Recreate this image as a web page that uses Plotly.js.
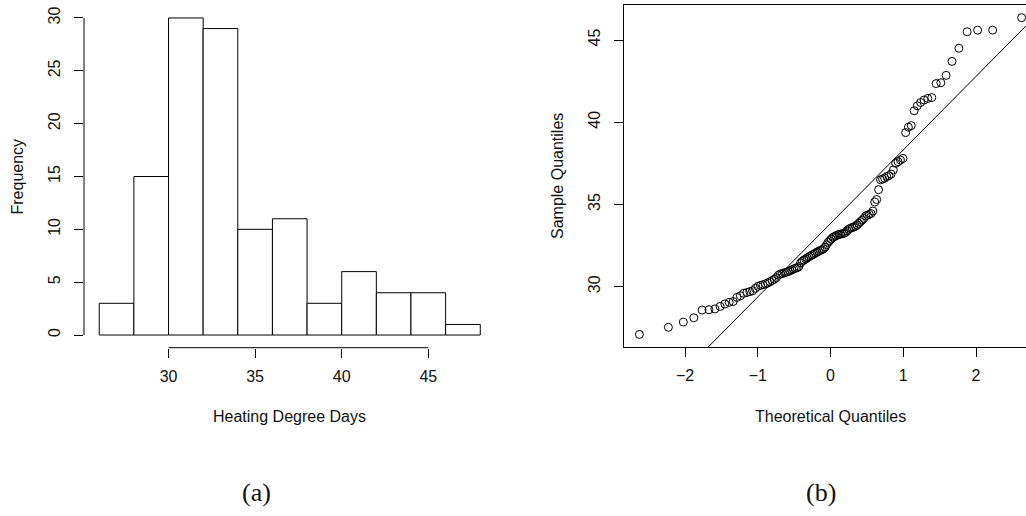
<!DOCTYPE html>
<html>
<head>
<meta charset="utf-8">
<script src="https://cdn.plot.ly/plotly-3.0.1.min.js"></script>
<style>
  html, body { margin: 0; padding: 0; background: #ffffff; }
  #chart { width: 1026px; height: 516px; }
</style>
</head>
<body>
<div id="chart"></div>
<script>
// Heating degree days, sorted ascending (116 observations)
const hddSorted = [
  27.10, 27.53, 27.85,
  28.11, 28.58, 28.60, 28.65, 28.80, 28.95, 29.05, 29.10, 29.35, 29.45, 29.60, 29.65, 29.70, 29.75, 29.90,
  30.02, 30.08, 30.12, 30.17, 30.22, 30.30, 30.38, 30.45, 30.55, 30.70,
  30.78, 30.80, 30.85, 30.88, 30.92, 30.97, 31.02, 31.08, 31.12, 31.15,
  31.22, 31.45, 31.55, 31.62, 31.68, 31.75, 31.82, 31.88, 31.93, 31.98,
  32.05, 32.10, 32.15, 32.20, 32.25, 32.30, 32.40, 32.55, 32.70, 32.80,
  32.90, 33.00, 33.05, 33.10, 33.15, 33.18, 33.20, 33.22, 33.25, 33.30,
  33.40, 33.50, 33.55, 33.60, 33.62, 33.68, 33.75, 33.85, 33.95,
  34.05, 34.15, 34.30, 34.35, 34.40, 34.45, 34.60, 35.15, 35.30, 35.90,
  36.50, 36.55, 36.60, 36.70, 36.75, 36.85, 37.10, 37.50, 37.60, 37.70, 37.80,
  39.37, 39.70, 39.80,
  40.70, 41.00, 41.20, 41.35, 41.45, 41.50,
  42.35, 42.40, 42.85, 43.70,
  44.50, 45.50, 45.60, 45.60,
  46.36
];

// Histogram bins (left edges) and their counts
const binLefts  = [26, 28, 30, 32, 34, 36, 38, 40, 42, 44, 46];
const binCounts = [3, 15, 30, 29, 10, 11, 3, 6, 4, 4, 1];
const binWidth  = 2;

// Tick labels
const histXTicks = [30, 35, 40, 45];
const histYTicks = [0, 5, 10, 15, 20, 25, 30];
const qqXTicks   = [-2, -1, 0, 1, 2];
const qqXLabels  = ["\u22122", "\u22121", "0", "1", "2"];
const qqYTicks   = [30, 35, 40, 45];

// Inverse standard normal CDF (Acklam's rational approximation)
function qnorm(p) {
  const a = [-3.969683028665376e+01, 2.209460984245205e+02, -2.759285104469687e+02,
             1.383577518672690e+02, -3.066479806614716e+01, 2.506628277459239e+00];
  const b = [-5.447609879822406e+01, 1.615858368580409e+02, -1.556989798598866e+02,
             6.680131188771972e+01, -1.328068155288572e+01];
  const c = [-7.784894002430293e-03, -3.223964580411365e-01, -2.400758277161838e+00,
             -2.549732539343734e+00, 4.374664141464968e+00, 2.938163982698783e+00];
  const d = [7.784695709041462e-03, 3.224671290700398e-01, 2.445134137142996e+00,
             3.754408661907416e+00];
  const pl = 0.02425, ph = 1 - pl;
  let q, r;
  if (p < pl) {
    q = Math.sqrt(-2 * Math.log(p));
    return (((((c[0]*q+c[1])*q+c[2])*q+c[3])*q+c[4])*q+c[5]) /
           ((((d[0]*q+d[1])*q+d[2])*q+d[3])*q+1);
  }
  if (p > ph) {
    q = Math.sqrt(-2 * Math.log(1 - p));
    return -(((((c[0]*q+c[1])*q+c[2])*q+c[3])*q+c[4])*q+c[5]) /
            ((((d[0]*q+d[1])*q+d[2])*q+d[3])*q+1);
  }
  q = p - 0.5; r = q * q;
  return (((((a[0]*r+a[1])*r+a[2])*r+a[3])*r+a[4])*r+a[5])*q /
         (((((b[0]*r+b[1])*r+b[2])*r+b[3])*r+b[4])*r+1);
}

// Theoretical quantiles at plotting positions (i - 0.5) / n
const n = hddSorted.length;
const theoQ = hddSorted.map((_, i) => qnorm((i + 1 - 0.5) / n));

// Reference line: mean + sd * z
const mean = hddSorted.reduce((s, v) => s + v, 0) / n;
const sd = Math.sqrt(hddSorted.reduce((s, v) => s + (v - mean) * (v - mean), 0) / (n - 1));
const lineX = [-4, 4];
const lineY = lineX.map(z => mean + sd * z);

const W = 1026, H = 516;
const sansFont = { family: "Liberation Sans, Arial, sans-serif", size: 16, color: "#111" };
const serifFont = { family: "Liberation Serif, Times New Roman, serif", size: 26, color: "#111" };

const traces = [
  {
    type: "bar",
    x: binLefts.map(l => l + binWidth / 2),
    y: binCounts,
    width: binWidth,
    marker: { color: "#ffffff", line: { color: "#000000", width: 1 } },
    xaxis: "x", yaxis: "y",
    hoverinfo: "skip"
  },
  {
    type: "scatter",
    mode: "lines",
    x: lineX, y: lineY,
    line: { color: "#000000", width: 1 },
    xaxis: "x2", yaxis: "y2",
    hoverinfo: "skip"
  },
  {
    type: "scatter",
    mode: "markers",
    x: theoQ, y: hddSorted,
    marker: { symbol: "circle-open", size: 8, color: "#000000", line: { width: 1, color: "#000000" } },
    xaxis: "x2", yaxis: "y2",
    hoverinfo: "skip"
  }
];

const tickStyle = {
  ticks: "outside", ticklen: 9, tickwidth: 1, tickcolor: "#000",
  showgrid: false, zeroline: false, tickfont: sansFont, fixedrange: true
};

const layout = {
  width: W, height: H,
  margin: { l: 0, r: 0, t: 0, b: 0 },
  paper_bgcolor: "#ffffff", plot_bgcolor: "#ffffff",
  showlegend: false,
  bargap: 0,
  xaxis: Object.assign({}, tickStyle, {
    domain: [84 / W, 495.5 / W], range: [25.12, 48.88],
    tickmode: "array", tickvals: histXTicks, ticktext: histXTicks.map(String),
    showline: false, anchor: "y", ticklabelstandoff: 5
  }),
  yaxis: Object.assign({}, tickStyle, {
    domain: [1 - 347.7 / H, 1 - 5.3 / H], range: [-1.2, 31.2],
    tickmode: "array", tickvals: histYTicks, ticktext: histYTicks.map(String),
    tickangle: -90, showline: false, anchor: "x", ticklabelstandoff: 8
  }),
  xaxis2: Object.assign({}, tickStyle, {
    domain: [624.1 / W, 1], range: [-2.837, 2.687],
    tickmode: "array", tickvals: qqXTicks, ticktext: qqXLabels,
    showline: true, mirror: true, linecolor: "#000", linewidth: 1,
    anchor: "y2", ticklabelstandoff: 5
  }),
  yaxis2: Object.assign({}, tickStyle, {
    domain: [1 - 347 / H, 1 - 5 / H], range: [26.334, 47.128],
    tickmode: "array", tickvals: qqYTicks, ticktext: qqYTicks.map(String),
    tickangle: -90, showline: true, linecolor: "#000", linewidth: 1,
    anchor: "x2", ticklabelstandoff: 8
  }),
  shapes: [
    // histogram axes span only the tick range
    { type: "line", xref: "x domain", yref: "y", x0: 0, x1: 0, y0: 0, y1: 30,
      line: { color: "#000", width: 1 } },
    { type: "line", xref: "x", yref: "y domain", x0: 30, x1: 45, y0: 0, y1: 0,
      line: { color: "#000", width: 1 } }
  ],
  annotations: [
    { text: "Frequency", xref: "paper", yref: "paper", x: 17 / W, y: 1 - 176.5 / H,
      textangle: -90, showarrow: false, font: sansFont, xanchor: "center", yanchor: "middle" },
    { text: "Heating Degree Days", xref: "paper", yref: "paper", x: 289.75 / W, y: 1 - 416 / H,
      showarrow: false, font: sansFont, xanchor: "center", yanchor: "middle" },
    { text: "Sample Quantiles", xref: "paper", yref: "paper", x: 558 / W, y: 1 - 176 / H,
      textangle: -90, showarrow: false, font: sansFont, xanchor: "center", yanchor: "middle" },
    { text: "Theoretical Quantiles", xref: "paper", yref: "paper", x: 830.5 / W, y: 1 - 416 / H,
      showarrow: false, font: sansFont, xanchor: "center", yanchor: "middle" },
    { text: "(a)", xref: "paper", yref: "paper", x: 256 / W, y: 1 - 492 / H,
      showarrow: false, font: serifFont, xanchor: "center", yanchor: "middle" },
    { text: "(b)", xref: "paper", yref: "paper", x: 821 / W, y: 1 - 492 / H,
      showarrow: false, font: serifFont, xanchor: "center", yanchor: "middle" }
  ]
};

Plotly.newPlot("chart", traces, layout, { staticPlot: true, displayModeBar: false });
</script>
</body>
</html>
